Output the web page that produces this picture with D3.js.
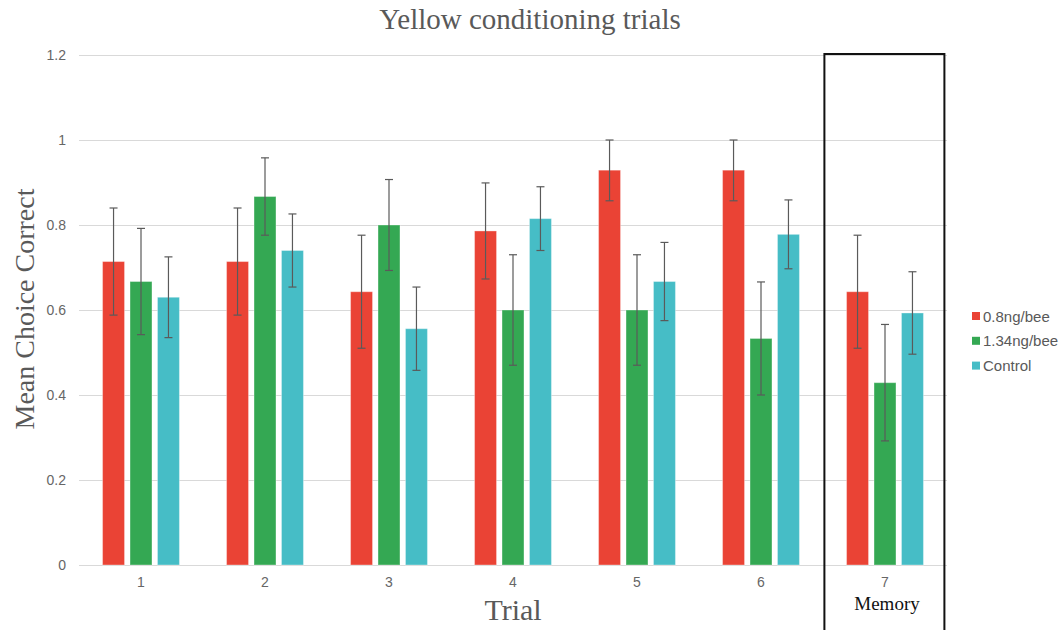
<!DOCTYPE html>
<html>
<head>
<meta charset="utf-8">
<script src="https://cdn.jsdelivr.net/npm/d3@7"></script>
<style>
  body { margin: 0; background: #fff; }
  text { font-family: "Liberation Sans", Arial, sans-serif; }
  .serif { font-family: "Liberation Serif", "Times New Roman", serif; }
</style>
</head>
<body>
<div id="chart"></div>
<script>
const trials = ["1", "2", "3", "4", "5", "6", "7"];
const seriesNames = ["0.8ng/bee", "1.34ng/bee", "Control"];
const colors = ["#EA4335", "#34A853", "#46BDC6"];

const dose08 = [0.714, 0.714, 0.643, 0.786, 0.929, 0.929, 0.643];
const dose134 = [0.667, 0.867, 0.800, 0.600, 0.600, 0.533, 0.429];
const control = [0.630, 0.740, 0.556, 0.815, 0.667, 0.778, 0.593];

const err08 = [0.126, 0.126, 0.133, 0.113, 0.072, 0.072, 0.133];
const err134 = [0.125, 0.091, 0.107, 0.130, 0.130, 0.133, 0.137];
const err_control = [0.095, 0.086, 0.098, 0.075, 0.092, 0.081, 0.097];

const yTicks = [0, 0.2, 0.4, 0.6, 0.8, 1, 1.2];

const W = 1063, H = 630;
const margin = { top: 55, right: 116, bottom: 65, left: 79 };
const width = W - margin.left - margin.right,
    height = H - margin.top - margin.bottom;

const values = [dose08, dose134, control];
const errors = [err08, err134, err_control];
const data = trials.map((t, i) => ({
    trial: t,
    bars: seriesNames.map((s, j) => ({ series: s, j, value: values[j][i], err: errors[j][i] }))
}));

const svg = d3.select("#chart").append("svg")
    .attr("width", W)
    .attr("height", H);

const g = svg.append("g")
    .attr("transform", `translate(${margin.left},${margin.top})`);

const x = d3.scaleBand()
    .domain(trials)
    .range([0, width]);

const bw = x.bandwidth();
const x1 = d3.scaleBand()
    .domain(seriesNames)
    .range([0.19 * bw, 0.81 * bw])
    .paddingInner(0.2);

const y = d3.scaleLinear()
    .domain([0, 1.2])
    .range([height, 0]);

// gridlines + y labels
const yAxis = g.append('g').call(d3.axisLeft(y)
    .tickValues(yTicks)
    .tickFormat(d => d3.format("")(+d.toFixed(1)))
    .tickSize(-width)
    .tickPadding(13));
yAxis.select('.domain').remove();
yAxis.selectAll('.tick line').attr('stroke', '#d9d9d9');
yAxis.selectAll('.tick text')
    .attr('fill', '#666')
    .attr('font-size', 14)
    .attr('font-family', '"Liberation Sans", Arial, sans-serif');

// x labels
const xAxis = g.append('g')
    .attr('transform', `translate(0, ${height})`)
    .call(d3.axisBottom(x).tickSize(0).tickPadding(12));
xAxis.select('.domain').remove();
xAxis.selectAll('.tick text')
    .attr('fill', '#666')
    .attr('font-size', 14)
    .attr('font-family', '"Liberation Sans", Arial, sans-serif');

// bars
const groups = g.selectAll('.grp')
    .data(data)
    .join('g')
    .attr('transform', d => `translate(${x(d.trial)},0)`);

groups.selectAll('rect')
    .data(d => d.bars)
    .join('rect')
    .attr('x', d => x1(d.series))
    .attr('y', d => y(d.value))
    .attr('width', x1.bandwidth())
    .attr('height', d => y(0) - y(d.value))
    .attr('fill', d => colors[d.j])
    .attr('stroke', 'rgba(255,255,255,0.35)')
    .attr('stroke-width', 1);

// error bars
const eb = groups.selectAll('.err')
    .data(d => d.bars)
    .join('g')
    .attr('class', 'err')
    .attr('stroke', '#5a5a5a')
    .attr('stroke-width', 1.2);
const cx = d => x1(d.series) + x1.bandwidth() / 2;
const errTop = d => y(Math.min(1, d.value + d.err));
const errBot = d => y(d.value - d.err);
eb.append('line')
    .attr('x1', cx).attr('x2', cx)
    .attr('y1', errTop)
    .attr('y2', errBot);
eb.append('line')
    .attr('x1', d => cx(d) - 4).attr('x2', d => cx(d) + 4)
    .attr('y1', errTop)
    .attr('y2', errTop);
eb.append('line')
    .attr('x1', d => cx(d) - 4).attr('x2', d => cx(d) + 4)
    .attr('y1', errBot)
    .attr('y2', errBot);

// memory box around trial 7
g.append('rect')
    .attr('x', x("7") + 1.4)
    .attr('y', y(1.2) - 1)
    .attr('width', bw - 4)
    .attr('height', H - margin.top - y(1.2) + 6)
    .attr('fill', 'none')
    .attr('stroke', '#111')
    .attr('stroke-width', 2);

g.append('text')
    .attr('class', 'serif')
    .attr('x', x("7") + bw / 2 + 2)
    .attr('y', height + 45)
    .attr('text-anchor', 'middle')
    .attr('font-size', 19)
    .attr('fill', '#111')
    .text('Memory');

// titles
svg.append('text')
    .attr('class', 'serif')
    .attr('x', 530)
    .attr('y', 29)
    .attr('text-anchor', 'middle')
    .attr('font-size', 29)
    .attr('fill', '#595959')
    .text('Yellow conditioning trials');

svg.append('text')
    .attr('class', 'serif')
    .attr('transform', `translate(34, ${margin.top + height / 2 - 1}) rotate(-90)`)
    .attr('text-anchor', 'middle')
    .attr('font-size', 28)
    .attr('fill', '#595959')
    .text('Mean Choice Correct');

svg.append('text')
    .attr('class', 'serif')
    .attr('x', margin.left + x("4") + bw / 2)
    .attr('y', 620)
    .attr('text-anchor', 'middle')
    .attr('font-size', 30)
    .attr('fill', '#595959')
    .text('Trial');

// legend
const legend = svg.append('g')
    .attr('transform', 'translate(972, 316)');
const li = legend.selectAll('g')
    .data(seriesNames)
    .join('g')
    .attr('transform', (d, i) => `translate(0, ${i * 24.8})`);
li.append('rect')
    .attr('x', 0).attr('y', -4)
    .attr('width', 8).attr('height', 8)
    .attr('fill', (d, i) => colors[i]);
li.append('text')
    .attr('x', 11)
    .attr('y', 5.5)
    .attr('font-size', 15)
    .attr('fill', '#595959')
    .text(d => d);
</script>
</body>
</html>
